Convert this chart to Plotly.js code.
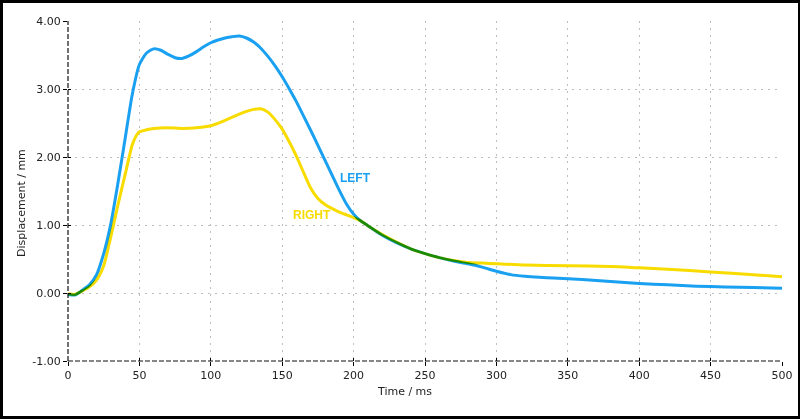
<!DOCTYPE html>
<html>
<head>
<meta charset="utf-8">
<script src="https://cdn.plot.ly/plotly-3.0.1.min.js"></script>
<style>
  html, body { margin: 0; padding: 0; background: #000; }
  #frame { width: 800px; height: 419px; box-sizing: border-box; border-style: solid; border-color: #000; border-width: 3px 2px 3px 3px; background: #fff; }
  #chart { width: 795px; height: 413px; }
  .scatterlayer path.js-line { mix-blend-mode: multiply; }
</style>
</head>
<body>
<div id="frame"><div id="chart"></div></div>
<script>
// LEFT series (blue)
const timeLeft = [0,5,10,15,20,25,30,35,40,45,50,55,60,65,70,75,80,85,90,95,100,105,110,115,120,125,130,135,140,145,150,155,160,165,170,175,180,185,190,195,200,205,210,220,230,240,250,260,270,280,290,300,310,320,330,340,360,380,400,420,440,460,480,500];
const dispLeft = [-0.02,-0.03,0.04,0.12,0.27,0.58,1.02,1.62,2.27,2.92,3.36,3.53,3.59,3.57,3.51,3.46,3.45,3.49,3.55,3.62,3.68,3.72,3.75,3.77,3.78,3.75,3.69,3.60,3.48,3.34,3.18,3.00,2.81,2.60,2.39,2.17,1.95,1.73,1.51,1.31,1.16,1.06,0.99,0.85,0.74,0.65,0.58,0.52,0.47,0.43,0.38,0.32,0.27,0.245,0.23,0.22,0.20,0.17,0.14,0.12,0.10,0.09,0.08,0.07];
// RIGHT series (yellow)
const timeRight = [0,5,10,15,20,25,30,35,40,45,48,50,55,60,70,80,90,100,110,120,125,130,135,140,145,150,155,160,165,170,175,180,185,190,195,200,205,210,220,230,240,250,260,270,280,290,300,320,350,380,400,420,450,480,500];
const dispRight = [-0.01,-0.02,0.03,0.09,0.19,0.40,0.83,1.30,1.74,2.18,2.32,2.37,2.40,2.42,2.43,2.42,2.43,2.46,2.54,2.63,2.67,2.70,2.71,2.66,2.55,2.41,2.22,2.01,1.77,1.54,1.39,1.30,1.24,1.19,1.15,1.11,1.06,0.99,0.86,0.75,0.65,0.58,0.52,0.48,0.45,0.44,0.43,0.41,0.40,0.39,0.37,0.35,0.31,0.27,0.24];

const seriesNames = ['LEFT', 'RIGHT'];
const xTickVals = [0,50,100,150,200,250,300,350,400,450,500];
const yTickVals = [-1,0,1,2,3,4];
const yTickText = ['-1.00','0.00','1.00','2.00','3.00','4.00'];
const xTitle = 'Time / ms';
const yTitle = 'Displacement / mm';

const BLUE = '#1aa0f0';
const YELLOW = '#f8dc00';
const FONT = 'DejaVu Sans, Verdana, sans-serif';

const traces = [
  { x: timeLeft, y: dispLeft, name: seriesNames[0], type: 'scatter', mode: 'lines',
    line: { color: BLUE, width: 3, shape: 'spline', smoothing: 0.6 }, hoverinfo: 'skip' },
  { x: timeRight, y: dispRight, name: seriesNames[1], type: 'scatter', mode: 'lines',
    line: { color: YELLOW, width: 3, shape: 'spline', smoothing: 0.6 }, hoverinfo: 'skip' }
];

const gridStyle = { showgrid: true, gridcolor: '#bdbdbd', griddash: '2px,5px', gridwidth: 1 };

const layout = {
  width: 795, height: 413,
  margin: { l: 65, r: 16, t: 18, b: 55 },
  paper_bgcolor: '#fff', plot_bgcolor: '#fff',
  showlegend: false,
  xaxis: Object.assign({
    range: [0, 500], tickvals: xTickVals, ticks: 'outside', ticklen: 4, tickcolor: '#000', tickwidth: 1,
    tickfont: { family: FONT, size: 11, color: '#222' }, zeroline: false, showline: false, fixedrange: true
  }, gridStyle),
  yaxis: Object.assign({
    range: [-1, 4], tickvals: yTickVals, ticktext: yTickText, ticks: 'outside', ticklen: 4, tickcolor: '#000', tickwidth: 1,
    tickfont: { family: FONT, size: 11, color: '#222' }, zeroline: false, showline: false, fixedrange: true
  }, gridStyle),
  xaxis2: { overlaying: 'x', anchor: 'y', side: 'bottom', range: [0, 500], tickvals: xTickVals, ticks: 'inside', ticklen: 3,
    tickcolor: '#000', showticklabels: false, showgrid: false, zeroline: false, showline: false },
  yaxis2: { overlaying: 'y', anchor: 'x', side: 'left', range: [-1, 4], tickvals: yTickVals, ticks: 'inside', ticklen: 3,
    tickcolor: '#000', showticklabels: false, showgrid: false, zeroline: false, showline: false },
  shapes: [
    { type: 'line', xref: 'paper', yref: 'paper', x0: 0, x1: 1, y0: 0, y1: 0, layer: 'above',
      line: { color: '#111', width: 1.2, dash: '5px,2px' } },
    { type: 'line', xref: 'paper', yref: 'paper', x0: 0, x1: 0, y0: 0, y1: 1, layer: 'above',
      line: { color: '#111', width: 1.2, dash: '5px,2px' } }
  ],
  annotations: [
    { text: yTitle, xref: 'paper', yref: 'paper', x: -0.0644, y: 0.465, textangle: -90,
      showarrow: false, xanchor: 'center', yanchor: 'middle', font: { family: FONT, size: 11, color: '#222' } },
    { text: xTitle, xref: 'paper', yref: 'paper', x: 0.4706, y: -0.091,
      showarrow: false, xanchor: 'center', yanchor: 'middle', font: { family: FONT, size: 11, color: '#222' } },
    { text: '<b>' + seriesNames[0] + '</b>', xref: 'x', yref: 'y', x: 201.5, y: 1.69, showarrow: false,
      xanchor: 'center', yanchor: 'middle', font: { family: 'Liberation Sans, Arial, sans-serif', size: 12, color: BLUE } },
    { text: '<b>' + seriesNames[1] + '</b>', xref: 'x', yref: 'y', x: 170.7, y: 1.15, showarrow: false,
      xanchor: 'center', yanchor: 'middle', font: { family: 'Liberation Sans, Arial, sans-serif', size: 12, color: YELLOW } }
  ]
};

// invisible helper trace so the overlaid tick-only axes render
traces.push({ x: [0], y: [0], xaxis: 'x2', yaxis: 'y2', mode: 'markers', marker: { opacity: 0 }, hoverinfo: 'skip', showlegend: false });

Plotly.newPlot('chart', traces, layout, { staticPlot: true, displayModeBar: false });
</script>
</body>
</html>
